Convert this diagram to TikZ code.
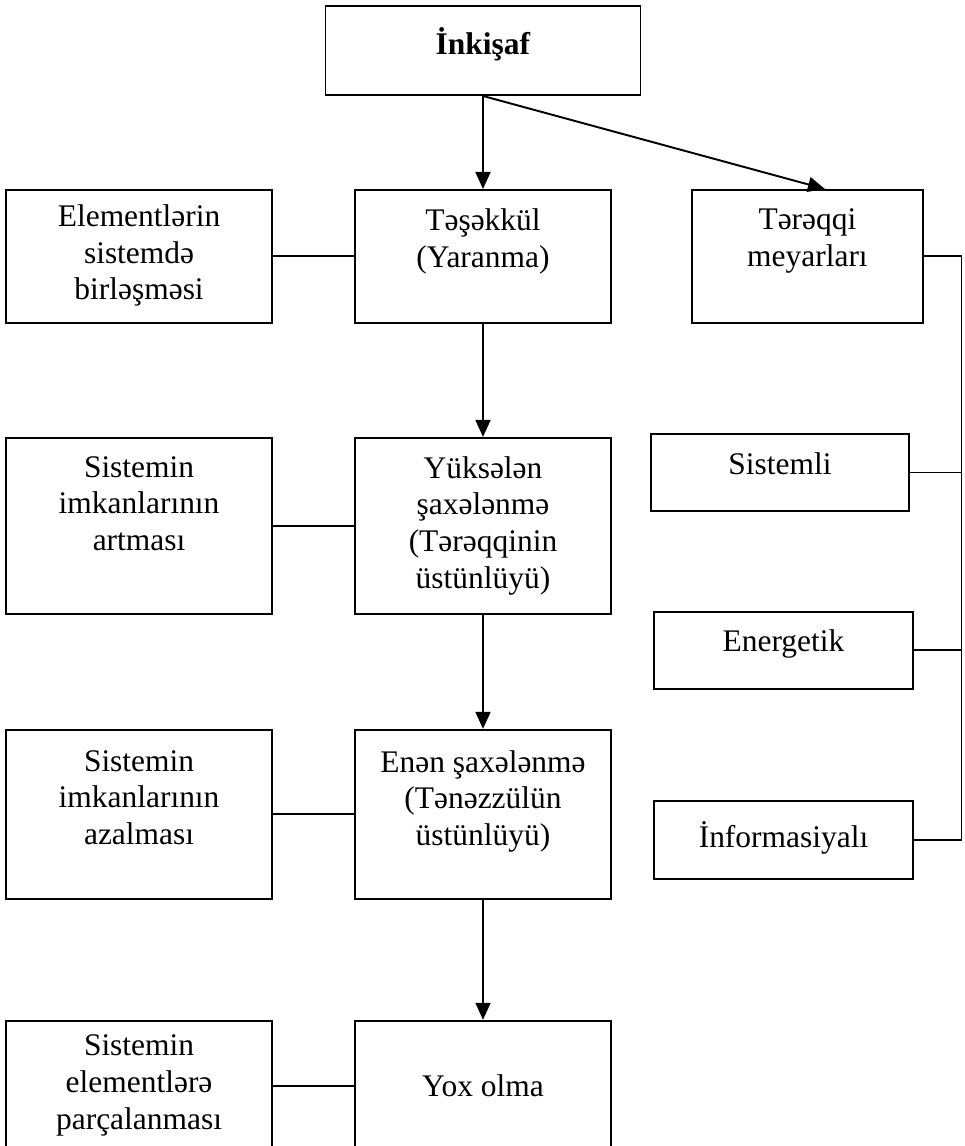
\documentclass[tikz,border=0pt]{standalone}
\usepackage{fontspec}
\setmainfont{Liberation Serif}
\usepackage{tikz}
\usetikzlibrary{arrows.meta,positioning}

\begin{document}
\begin{tikzpicture}[
    box/.style={draw, line width=1.1pt, minimum width=5.12cm, inner sep=0pt,
    font=\fontsize{17.9}{21}\selectfont},
    txt/.style={anchor=north, align=center, inner sep=0pt, yshift=#1,
    font=\fontsize{17.9}{21}\selectfont},
    txt/.default=-0.38cm,
    arr/.style={-{Triangle[length=0.34cm, width=0.3cm]}, line width=1.1pt},
    con/.style={line width=1.1pt}
]
\useasboundingbox (0,0) rectangle (19.28,-22.92);

\node[box, minimum width=6.3cm, minimum height=1.78cm,
    label={[txt=-0.44cm]north:\textbf{İnkişaf}}] (top) at (9.66,-1.01) {};

\node[box, minimum height=2.66cm, below=1.86cm of top,
    label={[txt]north:{Təşəkkül\\(Yaranma)}}] (tes) {};
\node[box, minimum height=3.52cm, below=2.26cm of tes,
    label={[txt]north:{Yüksələn\\şaxələnmə\\(Tərəqqinin\\üstünlüyü)}}] (yuk) {};
\node[box, minimum height=3.38cm, below=2.28cm of yuk,
    label={[txt=-0.42cm]north:{Enən şaxələnmə\\(Tənəzzülün\\üstünlüyü)}}] (enen) {};
\node[box, minimum height=2.6cm, below=2.4cm of enen] (yox) {Yox olma};

\node[box, minimum width=5.32cm, minimum height=2.66cm, left=1.62cm of tes,
    label={[txt=-0.3cm]north:{Elementlərin\\sistemdə\\birləşməsi}}] (elem) {};
\node[box, minimum width=5.32cm, minimum height=3.52cm, left=1.62cm of yuk,
    label={[txt]north:{Sistemin\\imkanlarının\\artması}}] (art) {};
\node[box, minimum width=5.32cm, minimum height=3.38cm, left=1.62cm of enen,
    label={[txt=-0.42cm]north:{Sistemin\\imkanlarının\\azalması}}] (aza) {};
\node[box, minimum width=5.32cm, minimum height=2.6cm, left=1.62cm of yox,
    label={[txt=-0.3cm]north:{Sistemin\\elementlərə\\parçalanması}}] (parc) {};

\node[box, minimum width=4.62cm, minimum height=2.66cm, right=1.58cm of tes,
    label={[txt]north:{Tərəqqi\\meyarları}}] (ter) {};
\node[box, minimum width=5.16cm, minimum height=1.54cm,
    label={[txt]north:Sistemli}] (sis) at (15.6,-9.45) {};
\node[box, minimum width=5.18cm, minimum height=1.54cm, below=1.98cm of sis,
    xshift=0.07cm, label={[txt=-0.36cm]north:Energetik}] (ene) {};
\node[box, minimum width=5.18cm, minimum height=1.56cm, below=2.2cm of ene,
    label={[txt=-0.42cm]north:İnformasiyalı}] (inf) {};

\coordinate (rail) at (19.23,0);

\draw[arr] (top.south) -- (tes.north);
\draw[arr] (top.south) -- ([xshift=0.35cm]ter.north);
\draw[arr] (tes.south) -- (yuk.north);
\draw[arr] (yuk.south) -- (enen.north);
\draw[arr] (enen.south) -- (yox.north);

\draw[con] (elem.east) -- (tes.west);
\draw[con] (art.east) -- (yuk.west);
\draw[con] (aza.east) -- (enen.west);
\draw[con] (parc.east) -- (yox.west);

\draw[con] (ter.east) -- (ter.east -| rail) |- (inf.east);
\draw[con] (sis.east) -- (sis.east -| rail);
\draw[con] (ene.east) -- (ene.east -| rail);
\end{tikzpicture}
\end{document}
